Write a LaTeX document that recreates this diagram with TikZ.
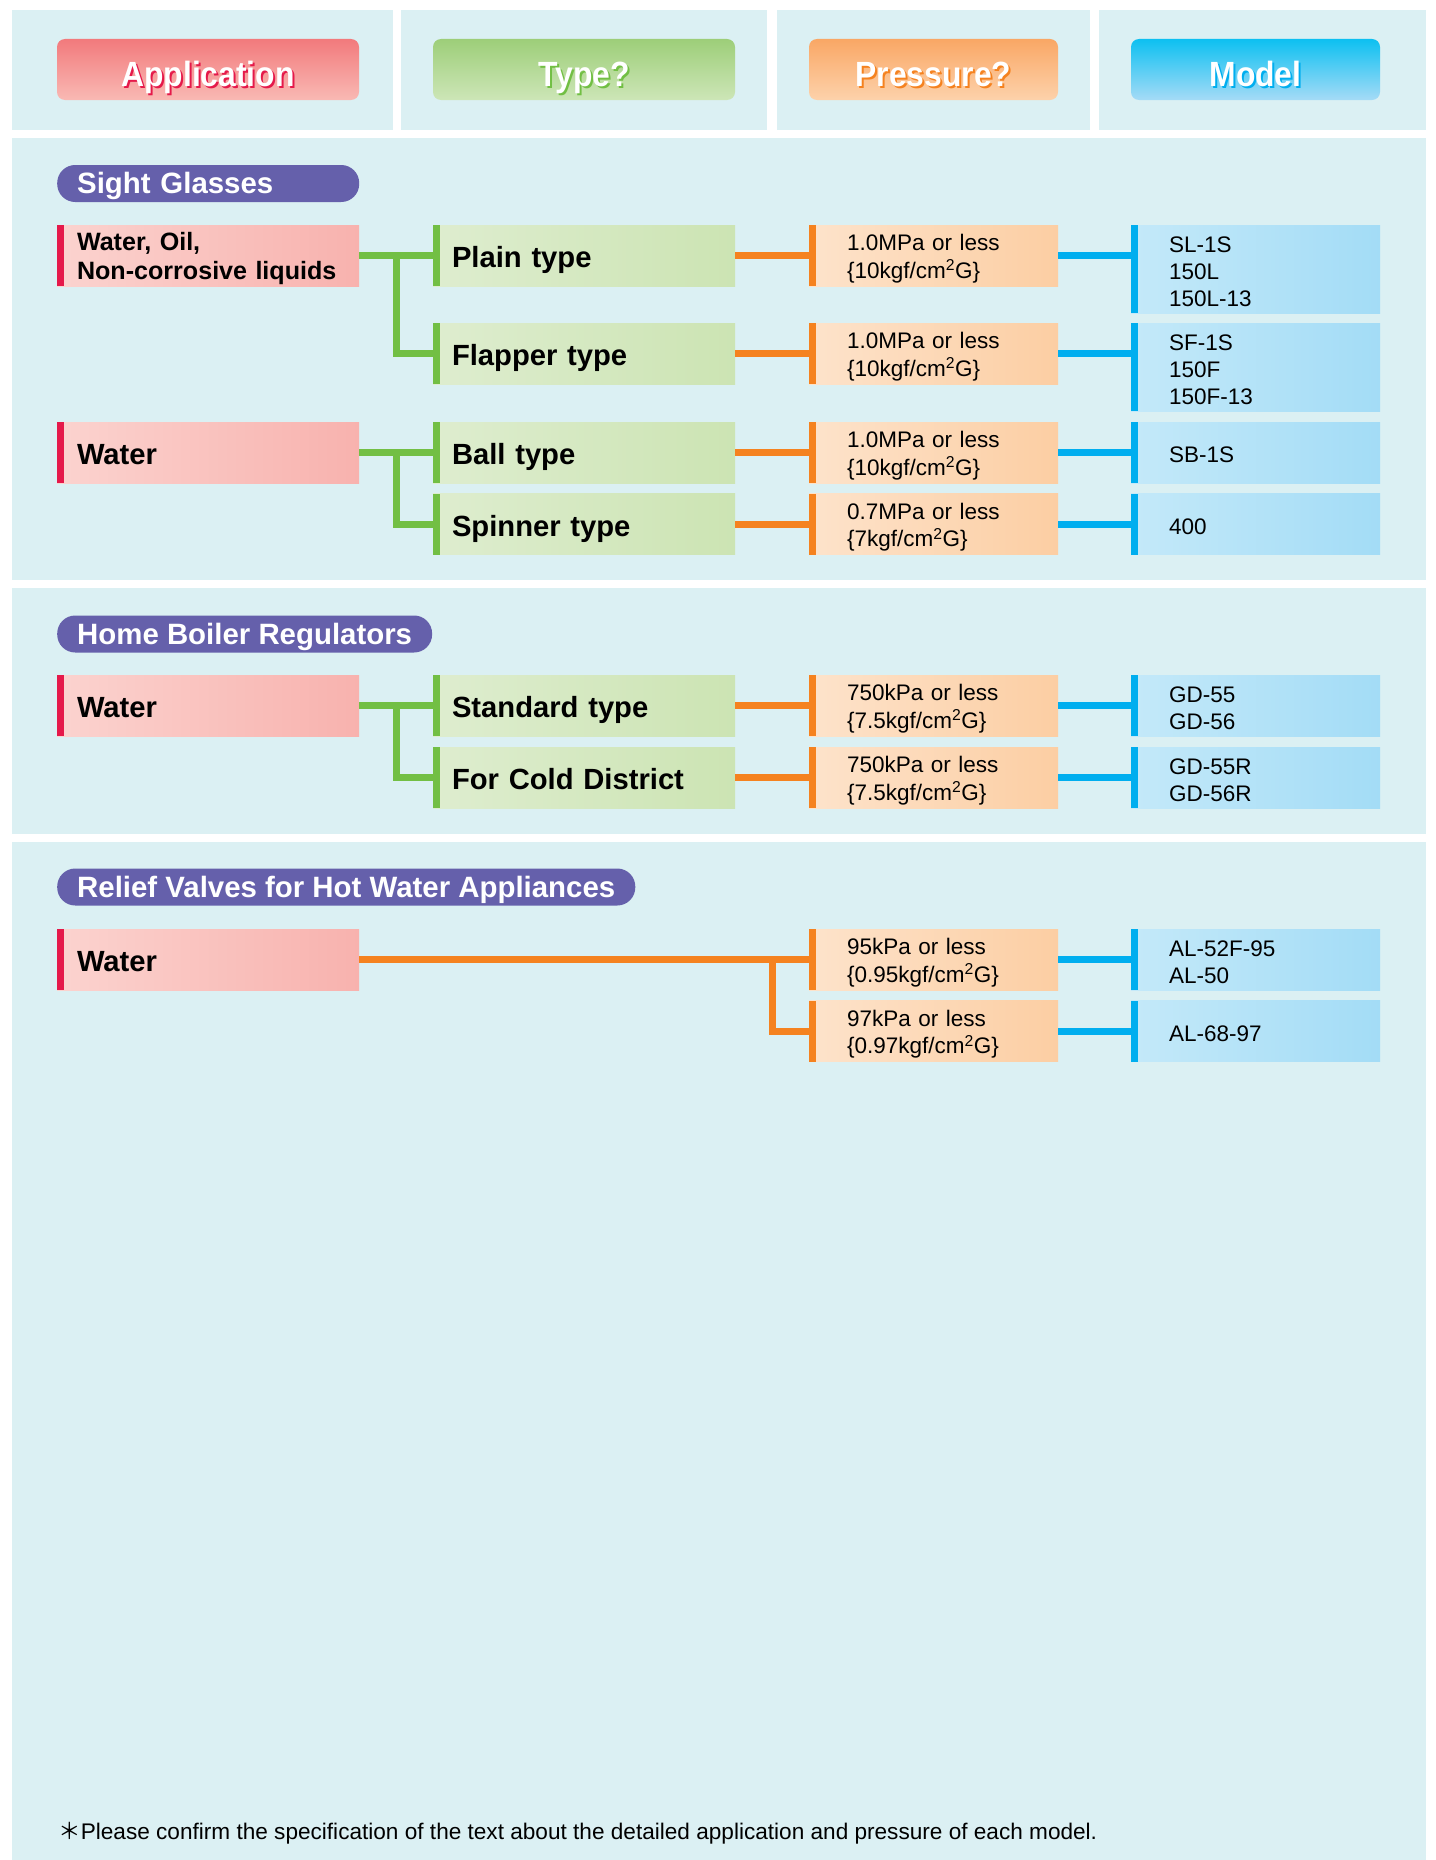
\documentclass[tikz,border=0pt]{standalone}
\usepackage{fontspec}
\setmainfont{Liberation Sans}
\newfontfamily\condsans[FakeStretch=0.91]{Liberation Sans}
\newfontfamily\cjk{Noto Sans CJK JP}
\usetikzlibrary{calc}

\definecolor{panelbg}{HTML}{DBF0F3}
\definecolor{pillblue}{HTML}{6560AB}
\definecolor{appbar}{HTML}{E5194A}
\definecolor{appL}{HTML}{FBD3CF}
\definecolor{appR}{HTML}{F8B2AE}
\definecolor{typebar}{HTML}{72BF44}
\definecolor{typeL}{HTML}{DEEDCF}
\definecolor{typeR}{HTML}{CCE4B3}
\definecolor{presbar}{HTML}{F5821F}
\definecolor{presL}{HTML}{FDE3CB}
\definecolor{presR}{HTML}{FCCEA3}
\definecolor{modbar}{HTML}{00AEEF}
\definecolor{modL}{HTML}{C4E9F9}
\definecolor{modR}{HTML}{A3DCF6}
\definecolor{happT}{HTML}{F27A7C}
\definecolor{happB}{HTML}{F9B9B4}
\definecolor{htypeT}{HTML}{9DCE79}
\definecolor{htypeB}{HTML}{CDE6B7}
\definecolor{hpresT}{HTML}{F9A765}
\definecolor{hpresB}{HTML}{FDD2AB}
\definecolor{hmodT}{HTML}{0DC0F1}
\definecolor{hmodB}{HTML}{A5DBF6}

\newcommand{\btnfont}{\condsans\bfseries\fontsize{35pt}{38pt}\selectfont}
\newcommand{\pillfont}{\bfseries\fontsize{29.4pt}{32pt}\selectfont}
\newcommand{\labfont}{\bfseries\fontsize{29.2pt}{32pt}\selectfont}
\newcommand{\applabfont}{\bfseries\fontsize{25.1pt}{28.5pt}\selectfont}
\newcommand{\valfont}{\fontsize{22.5pt}{27.3pt}\selectfont}
\newcommand{\notefont}{\fontsize{22.6pt}{26pt}\selectfont}
\newcommand{\btntext}[2]{\rlap{\kern2pt\raisebox{-2pt}{\textcolor{#1}{#2}}}\textcolor{white}{#2}}
\newcommand{\kgfunit}{kgf/cm\textsuperscript{2}G}

\tikzset{
  btn/.style 2 args={rounded corners=8pt, minimum height=61pt, top color=#1, bottom color=#2,
    font=\btnfont, inner sep=0pt, outer sep=0pt, text height=33pt, text depth=0pt},
  pill/.style={anchor=west, fill=pillblue, rounded corners=18pt, minimum height=37pt,
    inner xsep=20pt, inner ysep=0pt, text=white, font=\pillfont, text height=20.8pt, text depth=0pt},
  rowbox/.style n args={5}{anchor=west, outer sep=0pt, inner ysep=0pt, minimum height=61pt,
    left color=#1, right color=#2, inner xsep=#4, text width=#5, align=left,
    path picture={\fill[#3] (path picture bounding box.north west) rectangle ([xshift=7pt]path picture bounding box.south west);}},
  oneline/.style={text height=24.6pt, text depth=0pt},
  appbox/.style={rowbox={appL}{appR}{appbar}{20pt}{262pt}, font=\labfont},
  typebox/.style={rowbox={typeL}{typeR}{typebar}{19pt}{264pt}, font=\labfont, oneline},
  presbox/.style={rowbox={presL}{presR}{presbar}{38pt}{173pt}, font=\valfont, text height=22.5pt},
  modelbox/.style={rowbox={modL}{modR}{modbar}{38pt}{173pt}, font=\valfont, text height=21pt},
  greenline/.style={draw=typebar, line width=7pt},
  orangeline/.style={draw=presbar, line width=7pt},
  blueline/.style={draw=modbar, line width=7pt}
}

\begin{document}
\begin{tikzpicture}[x=1pt, y=-1pt]
\useasboundingbox (0,0) rectangle (1435,1860);

% Panels
\foreach \xa/\xb in {12/393, 401/767, 777/1090, 1099/1426} {
  \fill[panelbg] (\xa,10) rectangle (\xb,130);
}
\foreach \ya/\yb in {138/580, 588/834, 842/1860} {
  \fill[panelbg] (12,\ya) rectangle (1426,\yb);
}

% Column heads
\foreach \name/\x/\w/\ctop/\cbot/\cshade/\word in {happ/208/302/happT/happB/appbar/Application, htype/584/302/htypeT/htypeB/typebar/Type?, hpres/933.5/249/hpresT/hpresB/presbar/Pressure?, hmod/1255.5/249/hmodT/hmodB/modbar/Model} {
  \node[btn={\ctop}{\cbot}, minimum width=\w pt] (\name) at (\x,69.5) {\btntext{\cshade}{\word}};
}

% Sight Glasses
\node[pill, text width=262pt, align=left] (sight) at (57,183.5) {Sight Glasses};
\node[appbox, font=\applabfont, text height=24pt] (app1) at (57,255.5) {Water, Oil,\\Non-corrosive liquids};
\node[appbox, oneline] (app2) at (57,452.5) {Water};
\node[typebox] (type1) at (433,255.5) {Plain type};
\node[typebox] (type2) at (433,353.5) {Flapper type};
\node[typebox] (type3) at (433,452.5) {Ball type};
\node[typebox] (type4) at (433,524) {Spinner type};
\node[presbox] (pres1) at (809,255.5) {1.0MPa or less\\\{10\kgfunit\}};
\node[presbox] (pres2) at (809,353.5) {1.0MPa or less\\\{10\kgfunit\}};
\node[presbox] (pres3) at (809,452.5) {1.0MPa or less\\\{10\kgfunit\}};
\node[presbox] (pres4) at (809,524) {0.7MPa or less\\\{7\kgfunit\}};
\node[modelbox, minimum height=88pt] (model1) at (1131,269) {SL-1S\\150L\\150L-13};
\node[modelbox, minimum height=88pt] (model2) at (1131,367) {SF-1S\\150F\\150F-13};
\node[modelbox] (model3) at (1131,452.5) {SB-1S};
\node[modelbox] (model4) at (1131,524) {400};

% Home Boiler Regulators
\node[pill] (boiler) at (57,634) {Home Boiler Regulators};
\node[appbox, oneline] (app3) at (57,705.5) {Water};
\node[typebox] (type5) at (433,705.5) {Standard type};
\node[typebox] (type6) at (433,777.5) {For Cold District};
\node[presbox] (pres5) at (809,705.5) {750kPa or less\\\{7.5\kgfunit\}};
\node[presbox] (pres6) at (809,777.5) {750kPa or less\\\{7.5\kgfunit\}};
\node[modelbox] (model5) at (1131,705.5) {GD-55\\GD-56};
\node[modelbox] (model6) at (1131,777.5) {GD-55R\\GD-56R};

% Relief Valves for Hot Water Appliances
\node[pill] (relief) at (57,887) {Relief Valves for Hot Water Appliances};
\node[appbox, oneline] (app4) at (57,959.5) {Water};
\node[presbox] (pres7) at (809,959.5) {95kPa or less\\\{0.95\kgfunit\}};
\node[presbox] (pres8) at (809,1031) {97kPa or less\\\{0.97\kgfunit\}};
\node[modelbox] (model7) at (1131,959.5) {AL-52F-95\\AL-50};
\node[modelbox] (model8) at (1131,1031) {AL-68-97};

% Connectors
\foreach \a/\t/\u in {app1/type1/type2, app2/type3/type4, app3/type5/type6} {
  \draw[greenline] (\a.east) -- (\t.west);
  \draw[greenline] ($(\a.east)!0.5!(\t.west)$) |- (\u.west);
}
\foreach \t/\p in {type1/pres1, type2/pres2, type3/pres3, type4/pres4, type5/pres5, type6/pres6} {
  \draw[orangeline] (\t.east) -- (\p.west);
}
\coordinate (fork) at ([xshift=-37pt]pres7.west);
\draw[orangeline] (app4.east) -- (pres7.west);
\draw[orangeline] (fork) |- (pres8.west);
\foreach \p/\m in {pres1/model1, pres2/model2, pres3/model3, pres4/model4, pres5/model5, pres6/model6, pres7/model7, pres8/model8} {
  \draw[blueline] (\p.east) -- (\p.east -| \m.west);
}

% Note
\node[anchor=base west, font=\notefont, inner sep=0pt] (note) at (58,1839) {{\cjk ＊}Please confirm the specification of the text about the detailed application and pressure of each model.};
\end{tikzpicture}
\end{document}
